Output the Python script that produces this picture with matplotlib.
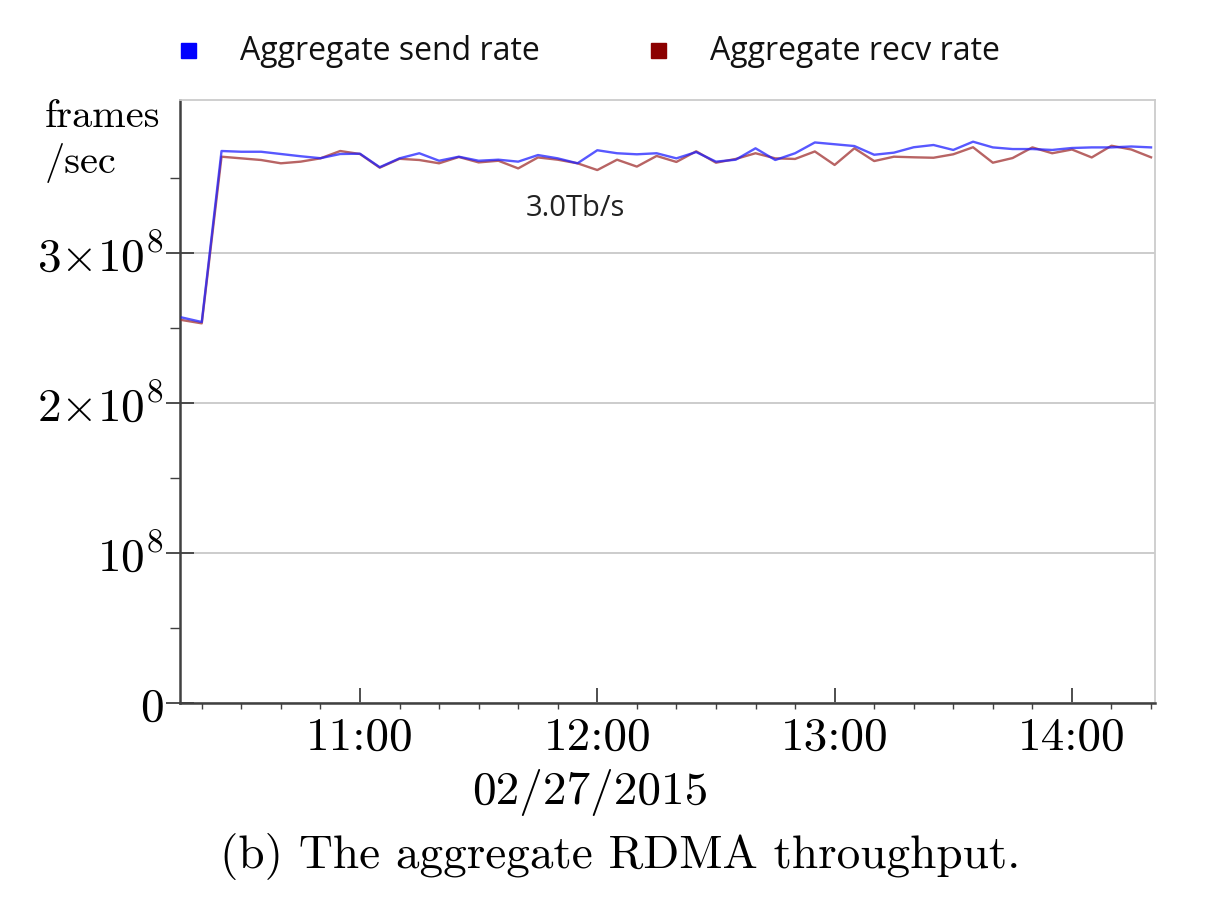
import matplotlib
matplotlib.use('Agg')
import matplotlib.pyplot as plt
import matplotlib.dates as mdates
from matplotlib.patches import Rectangle
import numpy as np
import pandas as pd

#----------Datos----------#
# muestras cada 5 minutos, 10:15 -> 14:20
times = pd.date_range('2015-02-27 10:15', periods=50, freq='5min')

# frames/sec en unidades de 1e8
send_rate = [2.57, 2.54, 3.68, 3.675, 3.675, 3.66, 3.645, 3.632, 3.66, 3.662,
             3.572, 3.631, 3.665, 3.615, 3.642, 3.615, 3.622, 3.609, 3.653, 3.631,
             3.598, 3.685, 3.665, 3.658, 3.665, 3.631, 3.673, 3.609, 3.622, 3.698,
             3.62, 3.665, 3.737, 3.725, 3.713, 3.655, 3.669, 3.705, 3.72, 3.687,
             3.742, 3.704, 3.693, 3.693, 3.687, 3.7, 3.704, 3.704, 3.71, 3.704]
recv_rate = [2.553, 2.531, 3.642, 3.631, 3.62, 3.598, 3.609, 3.631, 3.68, 3.66,
             3.569, 3.628, 3.62, 3.598, 3.64, 3.604, 3.615, 3.564, 3.637, 3.622,
             3.598, 3.553, 3.622, 3.576, 3.647, 3.607, 3.678, 3.602, 3.627, 3.665,
             3.631, 3.627, 3.677, 3.587, 3.698, 3.613, 3.642, 3.638, 3.635, 3.658,
             3.705, 3.602, 3.633, 3.704, 3.665, 3.69, 3.637, 3.715, 3.69, 3.638]

series_names = ['Aggregate send rate', 'Aggregate recv rate']
legend_colors = ['#0000ff', '#8b0000']

y_ticks = [0, 1e8, 2e8, 3e8]
y_labels = [r'$0$', r'$10^8$', r'$2{\times}10^8$', r'$3{\times}10^8$']

#----------Grafica----------#
plt.rcParams['mathtext.fontset'] = 'cm'
W, H = 1224, 917
fig = plt.figure(figsize=(W / 100, H / 100), dpi=100)
ax = fig.add_axes([180 / W, 1 - 703 / H, (1155 - 180) / W, (703 - 100) / H])

send = np.array(send_rate) * 1e8
recv = np.array(recv_rate) * 1e8
ax.plot(times, recv, color='#a03030', alpha=0.75, lw=1.7, zorder=3)
ax.plot(times, send, color='#2020ff', alpha=0.75, lw=1.7, zorder=4)

ax.set_ylim(0, 4.02e8)
ax.set_xlim(pd.Timestamp('2015-02-27 10:14:30'), pd.Timestamp('2015-02-27 14:21'))

ax.set_yticks(y_ticks)
ax.set_yticklabels(y_labels)
ax.set_yticks([0.5e8, 1.5e8, 2.5e8, 3.5e8], minor=True)
ax.xaxis.set_major_locator(mdates.HourLocator())
ax.xaxis.set_minor_locator(mdates.MinuteLocator(byminute=[10, 20, 30, 40, 50]))
ax.xaxis.set_major_formatter(mdates.DateFormatter('%H:%M'))

ax.tick_params(axis='x', which='major', direction='in', length=11, width=1.3,
               color='#404040', labelsize=34, pad=10)
ax.tick_params(axis='x', which='minor', direction='out', length=4, width=1,
               color='#404040')
ax.tick_params(axis='y', which='major', direction='inout', length=20, width=1.3,
               color='#404040', labelsize=34, pad=2)
ax.tick_params(axis='y', which='minor', direction='out', length=7, width=1,
               color='#404040')
for lab in ax.get_xticklabels():
    lab.set_fontfamily('cmr10')

ax.grid(axis='y', which='major', color='#c8c8c8', lw=1.3)
ax.set_axisbelow(True)
for side in ['top', 'right']:
    ax.spines[side].set_color('#cccccc')
    ax.spines[side].set_linewidth(1.3)
for side in ['left', 'bottom']:
    ax.spines[side].set_color('#404040')
    ax.spines[side].set_linewidth(1.8)

ax.text(pd.Timestamp('2015-02-27 11:42'), 3.3e8, '3.0Tb/s', fontsize=21,
        fontfamily='Open Sans', color='#222222', ha='left', va='center')

# leyenda manual
leg_x = [181, 651]
for x0, name, col in zip(leg_x, series_names, legend_colors):
    fig.patches.append(Rectangle((x0 / W, 1 - 58 / H), 15 / W, 15 / H,
                                 transform=fig.transFigure, color=col))
    fig.text((x0 + 59) / W, 1 - 51 / H, name, fontsize=23, fontfamily='Open Sans',
             ha='left', va='center', color='#111111')

fig.text(45 / W, 1 - 117 / H, 'frames', fontfamily='cmr10', fontsize=29,
         ha='left', va='center')
fig.text(45 / W, 1 - 163 / H, '/sec', fontfamily='cmr10', fontsize=29,
         ha='left', va='center')
fig.text(590 / W, 1 - 792 / H, '02/27/2015', fontfamily='cmr10', fontsize=34,
         ha='center', va='center')
fig.text(620 / W, 1 - 857 / H, '(b) The aggregate RDMA throughput.',
         fontfamily='cmr10', fontsize=34, ha='center', va='center')

fig.savefig('out.png', dpi=100, facecolor='white')
